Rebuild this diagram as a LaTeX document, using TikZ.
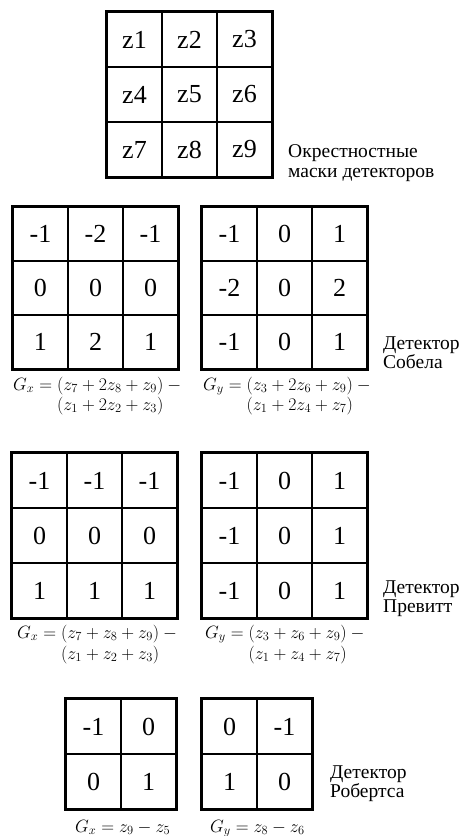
\documentclass[tikz,border=0pt]{standalone}
\usepackage{fix-cm}
\usepackage{fontspec}
\setmainfont{Liberation Serif}
\newcommand\mygrid[7]{% name, x0, y0, ncols, cw, ch, list
  \foreach \val [count=\i from 0] in {#7} {
    \pgfmathtruncatemacro\myrow{floor(\i/#4)}
    \pgfmathtruncatemacro\mycol{\i-\myrow*#4}
    \pgfmathsetmacro\myx{#2+(\mycol+0.5)*#5}
    \pgfmathsetmacro\myy{#3+(\myrow+0.5)*#6}
    \node[cell, minimum width=#5pt, minimum height=#6pt] (#1-\myrow-\mycol) at (\myx,\myy) {\val};
  }
}
\begin{document}
\begin{tikzpicture}[x=1pt,y=-1pt,
  cell/.style={draw, line width=1.6pt, inner sep=0pt, font=\fontsize{26}{28}\selectfont},
  frame/.style={draw, line width=2.4pt},
  lbl/.style={anchor=base west, inner sep=0pt, font=\fontsize{19.5}{21}\selectfont},
  frm/.style={anchor=base west, inner sep=0pt, font=\fontsize{17.8}{20}\selectfont}]
\useasboundingbox (0,0) rectangle (465,836);

% neighbourhood
\mygrid{t}{107}{12}{3}{55}{55}{z1,z2,z3,z4,z5,z6,z7,z8,z9}
\draw[frame] (t-0-0.north west) rectangle (t-2-2.south east);
\node[lbl] (tl1) at (288,157) {Окрестностные};
\node[lbl] (tl2) at (288,177) {маски детекторов};

% Sobel
\mygrid{sx}{13}{207}{3}{55}{54}{-1,-2,-1,0,0,0,1,2,1}
\draw[frame] (sx-0-0.north west) rectangle (sx-2-2.south east);
\mygrid{sy}{202}{207}{3}{55}{54}{-1,0,1,-2,0,2,-1,0,1}
\draw[frame] (sy-0-0.north west) rectangle (sy-2-2.south east);
\node[lbl] (sl1) at (383,349) {Детектор};
\node[lbl] (sl2) at (383,368) {Собела};
\node[frm] (sfx1) at (13,390) {$G_x = (z_7 + 2z_8 + z_9) -{}$};
\node[frm] (sfx2) at (13,410) {$\phantom{G_x = {}}(z_1 + 2z_2 + z_3)$};
\node[frm] (sfy1) at (203,390) {$G_y = (z_3 + 2z_6 + z_9) -{}$};
\node[frm] (sfy2) at (203,410) {$\phantom{G_y = {}}(z_1 + 2z_4 + z_7)$};

% Prewitt
\mygrid{px}{12}{453}{3}{55}{55}{-1,-1,-1,0,0,0,1,1,1}
\draw[frame] (px-0-0.north west) rectangle (px-2-2.south east);
\mygrid{py}{202}{453}{3}{55}{55}{-1,0,1,-1,0,1,-1,0,1}
\draw[frame] (py-0-0.north west) rectangle (py-2-2.south east);
\node[lbl] (pl1) at (383,593) {Детектор};
\node[lbl] (pl2) at (383,612) {Превитт};
\node[frm] (pfx1) at (17,638) {$G_x = (z_7 + z_8 + z_9) -{}$};
\node[frm] (pfx2) at (17,659) {$\phantom{G_x = {}}(z_1 + z_2 + z_3)$};
\node[frm] (pfy1) at (205,638) {$G_y = (z_3 + z_6 + z_9) -{}$};
\node[frm] (pfy2) at (205,659) {$\phantom{G_y = {}}(z_1 + z_4 + z_7)$};

% Roberts
\mygrid{rx}{66}{699}{2}{55}{55}{-1,0,0,1}
\draw[frame] (rx-0-0.north west) rectangle (rx-1-1.south east);
\mygrid{ry}{202}{699}{2}{55}{55}{0,-1,1,0}
\draw[frame] (ry-0-0.north west) rectangle (ry-1-1.south east);
\node[lbl] (rl1) at (330,778) {Детектор};
\node[lbl] (rl2) at (330,797) {Робертса};
\node[frm] (rfx) at (75,832) {$G_x = z_9 - z_5$};
\node[frm] (rfy) at (210,832) {$G_y = z_8 - z_6$};
\end{tikzpicture}
\end{document}
